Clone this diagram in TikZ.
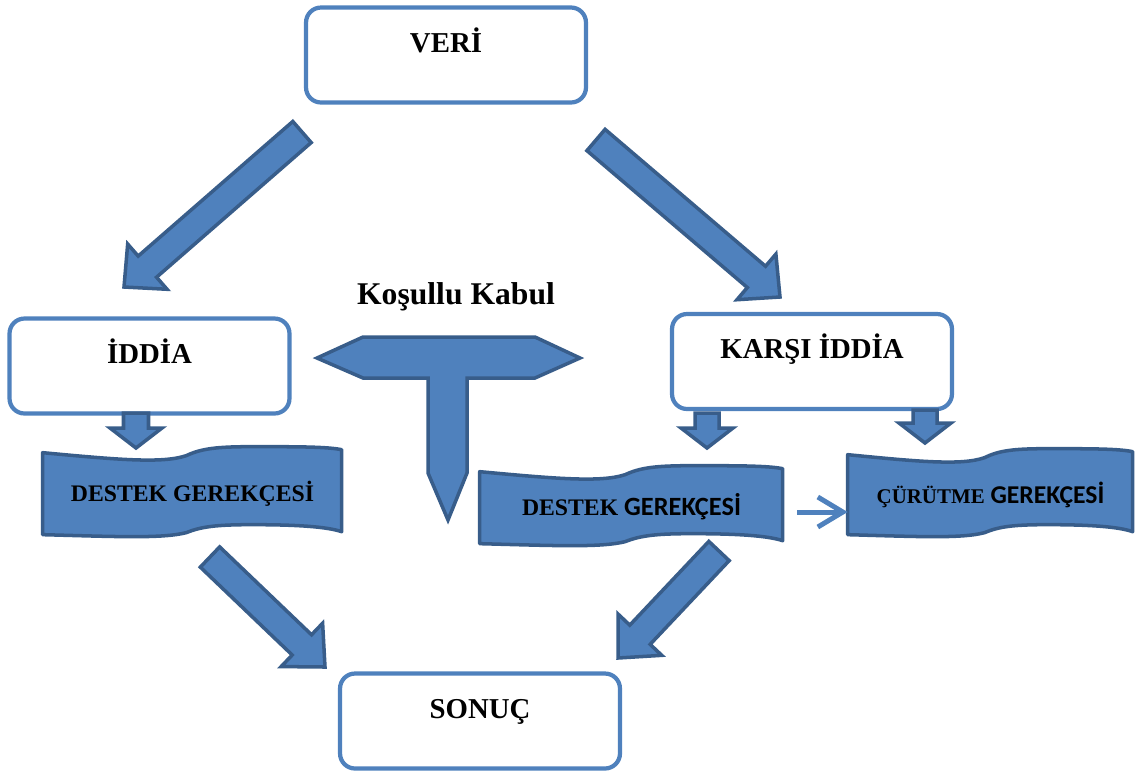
\documentclass[tikz,border=0pt]{standalone}
\usepackage{fontspec}
\setmainfont{Liberation Serif}
\newfontfamily\calibfont{Carlito}
\usetikzlibrary{calc, backgrounds, arrows.meta}
\definecolor{officeblue}{HTML}{4F81BD}
\definecolor{officedark}{HTML}{385D8A}
\tikzset{
    box/.style={
        rectangle, rounded corners=0.3cm, draw=officeblue, line width=2.4pt,
        fill=white, minimum width=5.6cm, minimum height=1.9cm,
        text height=0.4cm, text depth=0.52cm,
        font=\fontsize{16.4}{18}\selectfont\bfseries
    },
    bannertext/.style={
        inner sep=0pt, font=\fontsize{13.5}{16}\selectfont\bfseries
    },
    banner/.style={draw=officedark, fill=officeblue, line width=2pt, line join=round},
    blockarrow/.style={draw=officedark, fill=officeblue, line width=2pt, line join=miter},
    linkarrow/.style={draw=officeblue, line width=0.1cm,
        -{Straight Barb[length=0.5cm, width=0.6cm]}}
}
% wave banner behind a text node: node, width, height (px)
\newcommand{\wavepath}[3]{%
  \begin{scope}[on background layer, shift={(#1.north west)}, xscale=#2]
    \draw[banner] (0,0) .. controls (0.25,7) and (0.4,11) .. (0.48,3)
      .. controls (0.53,-4) and (0.58,-6) .. (0.7,-6)
      .. controls (0.85,-6) and (0.95,-6) .. (1,-3)
      -- (1,#3-3) .. controls (0.95,#3-8) and (0.85,#3-10) .. (0.7,#3-10)
      .. controls (0.58,#3-10) and (0.53,#3-8) .. (0.48,#3-2)
      .. controls (0.4,#3+4) and (0.25,#3+2) .. (0,#3) -- cycle;
  \end{scope}}
% block arrow: from, to, shaft half width, head half width, head length
\newcommand{\fatarrow}[5]{%
  \coordinate (arrowbase) at ($(#2)!#5!(#1)$);
  \draw[blockarrow] ($(#1)!#3!90:(#2)$) -- ($(arrowbase)!#3!90:(#2)$)
    -- ($(arrowbase)!#4!90:(#2)$) -- (#2) -- ($(arrowbase)!#4!-90:(#2)$)
    -- ($(arrowbase)!#3!-90:(#2)$) -- ($(#1)!#3!-90:(#2)$) -- cycle;}

\begin{document}
\begin{tikzpicture}[x=0.02cm, y=-0.02cm]
\useasboundingbox (0,0) rectangle (1138,772);

% boxes
\node[box] (veri) at (446,55) {VERİ};
\node[box] (iddia) at (149.5,366) {İDDİA};
\node[box] (karsi) at (812,361.5) {KARŞI İDDİA};
\node[box] (sonuc) at (480,721) {SONUÇ};

% banners
\node[bannertext, minimum width=5.98cm, minimum height=1.64cm] (dg1) at (192.5,494) {DESTEK GEREKÇESİ};
\node[bannertext, minimum width=6.06cm, minimum height=1.4cm] (dg2) at (631.5,507)
    {DESTEK {\calibfont\fontsize{15}{16}\selectfont GEREKÇESİ}};
\node[bannertext, minimum width=5.7cm, minimum height=1.6cm] (cg) at (990.5,495)
    {{\fontsize{11.9}{14}\selectfont ÇÜRÜTME} {\calibfont\fontsize{14.6}{16}\selectfont GEREKÇESİ}};
\wavepath{dg1}{299}{82}
\wavepath{dg2}{303}{72}
\wavepath{cg}{285}{80}

% conditional acceptance
\node[font=\fontsize{18}{20}\selectfont\bfseries] (kabul) at (456,297) {Koşullu Kabul};
\draw[blockarrow] (317,358) -- (363,337) -- (535,337) -- (580,358) -- (535,378)
    -- (467,378) -- (467,473) -- (448,520) -- (428,473) -- (428,378) -- (363,378) -- cycle;

% big arrows
\coordinate (v2i-from) at (302,132);
\coordinate (v2i-to) at (124,287);
\coordinate (v2k-from) at (596,140);
\coordinate (v2k-to) at (780,297);
\coordinate (d2s-from) at (210,557);
\coordinate (d2s-to) at (325,667);
\coordinate (k2s-from) at (719,551);
\coordinate (k2s-to) at (618,658);
\fatarrow{v2i-from}{v2i-to}{0.28cm}{0.6cm}{0.62cm}
\fatarrow{v2k-from}{v2k-to}{0.28cm}{0.6cm}{0.62cm}
\fatarrow{d2s-from}{d2s-to}{0.28cm}{0.6cm}{0.64cm}
\fatarrow{k2s-from}{k2s-to}{0.28cm}{0.6cm}{0.64cm}

% small arrows
\coordinate (i2d-from) at (136,413);
\coordinate (i2d-to) at (136,448);
\coordinate (k2d-from) at (707,413);
\coordinate (k2d-to) at (707,448);
\coordinate (k2c-from) at (925,410);
\coordinate (k2c-to) at (925,443);
\fatarrow{i2d-from}{i2d-to}{0.25cm}{0.52cm}{0.4cm}
\fatarrow{k2d-from}{k2d-to}{0.24cm}{0.52cm}{0.4cm}
\fatarrow{k2c-from}{k2c-to}{0.24cm}{0.52cm}{0.4cm}

\draw[linkarrow] ([xshift=0.28cm, yshift=-0.1cm]dg2.east) -- ([yshift=-0.1cm]dg2.east -| cg.west);

\end{tikzpicture}
\end{document}
